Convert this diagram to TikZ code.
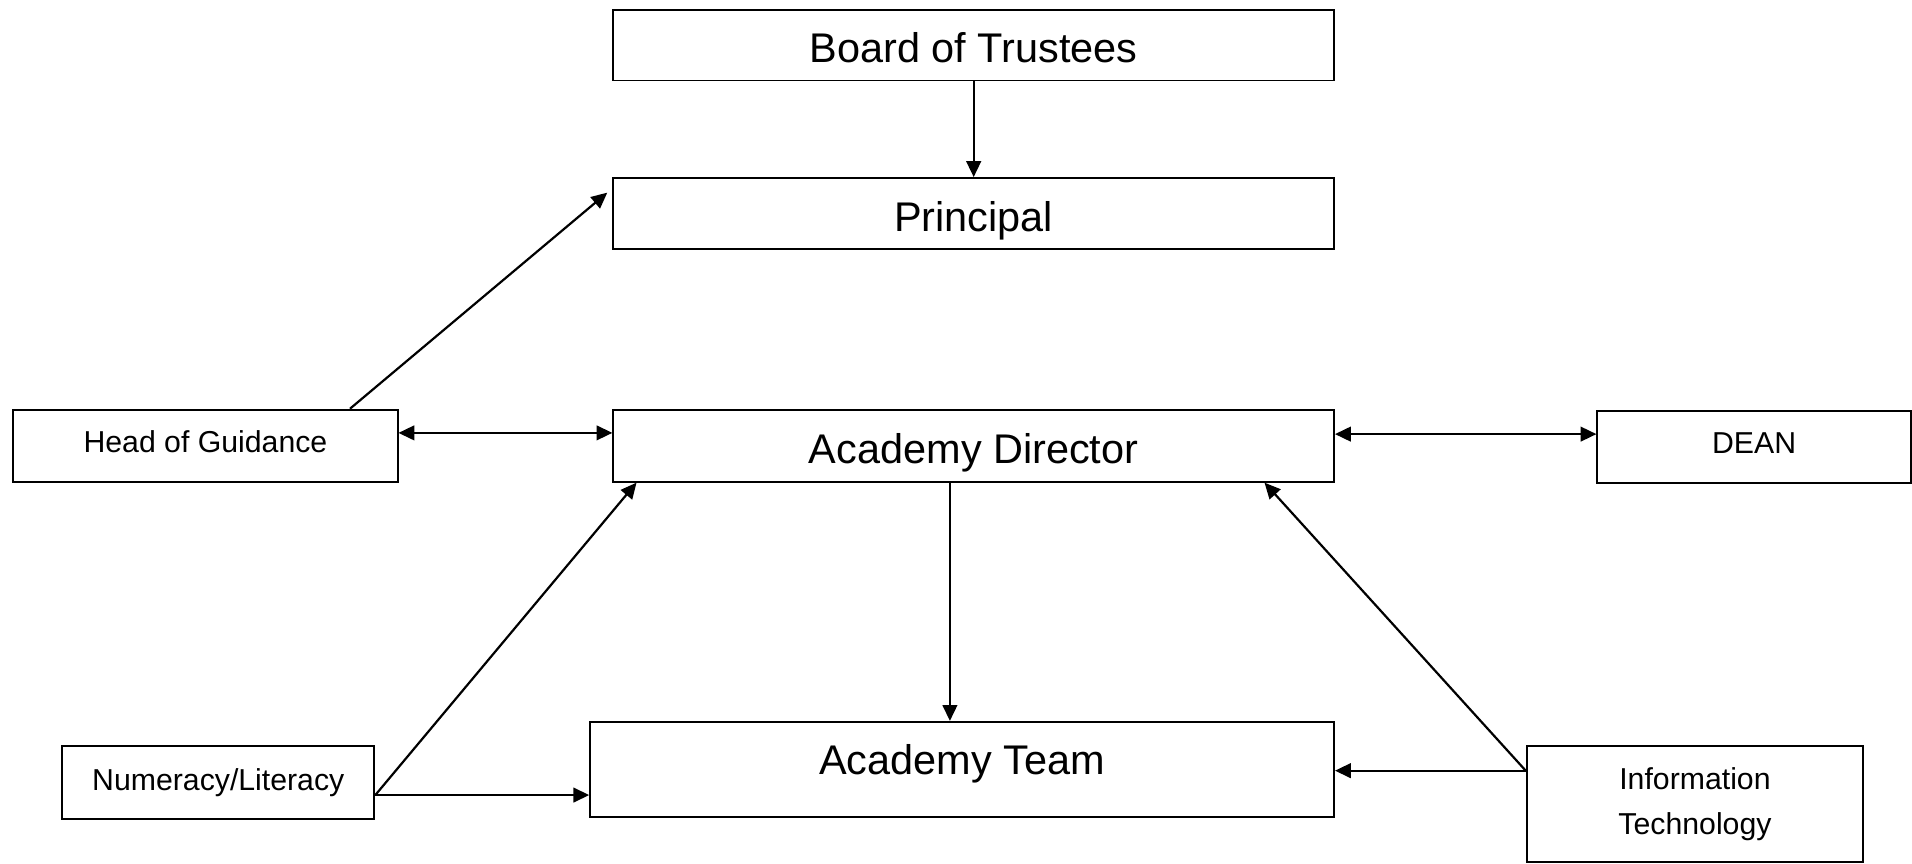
\documentclass[tikz,border=0pt]{standalone}
\usepackage{fontspec}
\setmainfont{Liberation Sans}
\usetikzlibrary{arrows.meta}
\begin{document}
\begin{tikzpicture}[x=0.5pt,y=-0.5pt,
  box/.style={draw, line width=0.8pt, inner sep=0pt, align=center},
  bl/.style={text height=#1, text depth=0pt},
  bigtxt/.style={font=\fontsize{17}{20}\selectfont},
  smalltxt/.style={font=\fontsize{12.4}{18.3}\selectfont},
  tip/.style={Triangle[length=6.5pt,width=6pt]},
  arr/.style={line width=0.9pt, -{Triangle[length=6.5pt,width=6pt]}},
  darr/.style={line width=0.9pt, {Triangle[length=6.5pt,width=6pt]}-{Triangle[length=6.5pt,width=6pt]}}]
\useasboundingbox (0,0) rectangle (1568,708);
\node[box,bigtxt,bl=14pt,minimum width=295.5pt,minimum height=29pt] (board) at (798.5,37) {Board of Trustees};
\node[box,bigtxt,bl=15pt,minimum width=295.5pt,minimum height=29pt] (principal) at (798.5,175) {Principal};
\node[box,smalltxt,bl=5.6pt,minimum width=157.5pt,minimum height=29.5pt] (hog) at (168.5,365.5) {Head of Guidance};
\node[box,bigtxt,bl=14.4pt,minimum width=295.5pt,minimum height=29.5pt] (ad) at (798.5,365.5) {Academy Director};
\node[box,smalltxt,bl=5.5pt,minimum width=128.5pt,minimum height=29.5pt] (dean) at (1438.5,366.5) {DEAN};
\node[box,smalltxt,bl=6pt,minimum width=128pt,minimum height=30pt] (num) at (179,642) {Numeracy/Literacy};
\node[box,bigtxt,bl=4.5pt,minimum width=305pt,minimum height=39pt] (team) at (789,631) {Academy Team};
\node[box,smalltxt,text height=0pt,text depth=12pt,minimum width=138pt,minimum height=47.5pt] (it) at (1390,659.5) {\begin{tabular}[t]{@{}c@{}}Information\\Technology\end{tabular}};
\coordinate (ptip) at (498,158);
\draw[arr] (board) -- (principal);
\draw[arr] (hog.north -| 287,0) -- (ptip);
\draw[darr] (hog.east |- 0,355) -- (ad.west |- 0,355);
\draw[darr] (ad.east |- 0,356) -- (dean.west |- 0,356);
\draw[arr] (ad.south -| 779,0) -- (team.north -| 779,0);
\draw[arr] (num.east |- 0,652) -- (ad.south -| 522,0);
\draw[arr] (num.east |- 0,652) -- (team.west |- 0,652);
\draw[arr] (it.west |- 0,632) -- (ad.south -| 1037,0);
\draw[arr] (it.west |- 0,632) -- (team.east |- 0,632);
\end{tikzpicture}
\end{document}
